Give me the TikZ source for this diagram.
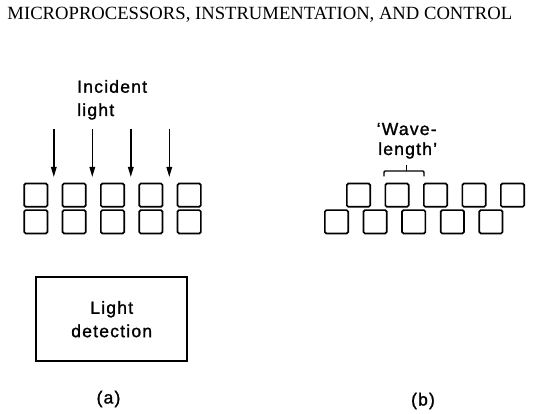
\documentclass[tikz,border=0pt]{standalone}
\usepackage{fontspec}
\setmainfont{Liberation Serif}
\newfontfamily\labfont[LetterSpace=7,FakeBold=1.3]{Liberation Sans}
\usetikzlibrary{arrows.meta}
\tikzset{
  sq/.style={draw, line width=1.7pt, rounded corners=1.5pt, minimum size=23.3pt, inner sep=0pt, anchor=north west},
  lab/.style={font=\labfont\fontsize{17.5}{23.4}\selectfont, inner sep=0pt},
  inarrow/.style={line width=1.4pt, -{Triangle[length=10pt,width=5.5pt]}},
  bracepath/.style={line width=1.4pt, rounded corners=1.2pt},
  detbox/.style={draw, line width=1.8pt, minimum width=151.3pt, minimum height=83.7pt, inner sep=0pt, align=center, font=\labfont\fontsize{17.5}{23.4}\selectfont}
}
\begin{document}
\begin{tikzpicture}[x=1pt,y=-1pt]
\useasboundingbox (0,0) rectangle (542,414);
% header
\node[anchor=base west, inner sep=0pt, font=\fontsize{18.65}{22}\selectfont] (head) at (7.3,20) {MICROPROCESSORS, INSTRUMENTATION, AND CONTROL};
% (a) squares
\foreach \i in {0,...,4} {
  \node[sq] (at\i) at ({23.3+38.35*\i},182.7) {};
  \node[sq] (ab\i) at ({23.3+38.35*\i},209.3) {};
}
% arrows
\foreach \i/\x in {1/53.8,2/92.3,3/130.8,4/169.3} {
  \coordinate (s\i) at (\x,129.3);
  \coordinate (e\i) at (\x,177);
  \draw[inarrow] (s\i) -- (e\i);
}
\node[lab, anchor=base west] (inc1) at (77,92.7) {Incident};
\node[lab, anchor=base west] (inc2) at (77,116) {light};
% detection box
\node[detbox] (det) at (111.7,319.2) {Light\\detection};
\node[lab] (la) at (108.5,399) {(a)};
% (b) squares
\foreach \i in {0,...,4} {
  \node[sq] (bt\i) at ({346+38.5*\i},182.7) {};
  \node[sq] (bb\i) at ({324+38.6*\i},209.3) {};
}
% brace
\coordinate (br1) at (384,176.5);
\coordinate (br2) at (384,171);
\coordinate (br3) at (424,171);
\coordinate (br4) at (424,176.5);
\coordinate (brm) at (406.5,171);
\coordinate (brt) at (406.5,165);
\draw[bracepath] (br1) -- (br2) -- (br3) -- (br4);
\draw[line width=1.4pt] (brm) -- (brt);
\node[lab, anchor=base west] (wl1) at (376.5,135) {‘Wave-};
\node[lab, anchor=base west] (wl2) at (378,155) {length’};
\node[lab] (lb) at (423,401) {(b)};
\end{tikzpicture}
\end{document}
